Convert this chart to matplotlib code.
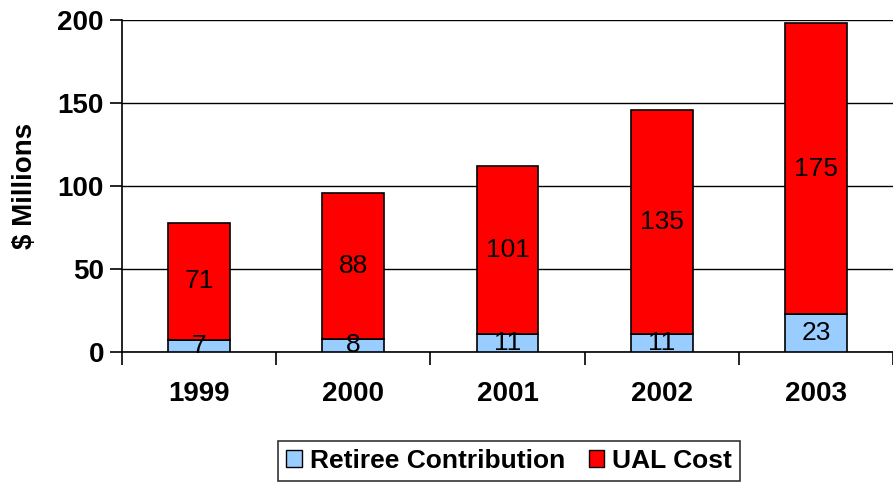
import numpy as np
import matplotlib
matplotlib.use("Agg")
import matplotlib.pyplot as plt
from matplotlib.patches import Patch

years = ["1999", "2000", "2001", "2002", "2003"]
retiree = [7, 8, 11, 11, 23]
ual = [71, 88, 101, 135, 175]

plt.rcParams['font.family'] = ['Liberation Sans', 'DejaVu Sans']

fig = plt.figure(figsize=(8.93, 4.87), dpi=100)
W, H = 893, 487
# axes in pixel coords: left 122, top 20, bottom 352, right edge cut by figure
ax = fig.add_axes([122 / W, 1 - 352 / H, (893 - 122) / W, (352 - 20) / H])

x = np.arange(len(years))
blue = '#99ccff'
red = '#ff0000'
ax.bar(x, retiree, width=0.4, color=blue, edgecolor='black', linewidth=1.2, zorder=3)
ax.bar(x, ual, width=0.4, bottom=retiree, color=red, edgecolor='black', linewidth=1.2, zorder=3)

for i in range(len(years)):
    ax.text(x[i], retiree[i] / 2, str(retiree[i]), ha='center', va='center',
            fontsize=19, color='black', zorder=4)
    ax.text(x[i], retiree[i] + ual[i] / 2, str(ual[i]), ha='center', va='center',
            fontsize=19, color='black', zorder=4)

ax.set_ylim(0, 200)
ax.set_yticks([0, 50, 100, 150, 200])
ax.set_xlim(-0.5, 4.458)
ax.yaxis.grid(True, color='black', linewidth=1.0, zorder=0)
ax.set_axisbelow(True)

# category tick marks at boundaries, labels at centers
ax.set_xticks(np.arange(len(years) + 1) - 0.5)
ax.set_xticklabels([])
ax.set_xticks(x, minor=True)
ax.set_xticklabels(years, minor=True, fontsize=20, fontweight='bold')
ax.tick_params(axis='x', which='minor', length=0, pad=21)
ax.tick_params(axis='x', which='major', length=9, width=1.2, direction='out')
ax.tick_params(axis='y', length=9, width=1.2, direction='out', labelsize=20, pad=4)
for lab in ax.get_yticklabels():
    lab.set_fontweight('bold')

for s in ['top', 'right']:
    ax.spines[s].set_visible(False)
for s in ['left', 'bottom']:
    ax.spines[s].set_linewidth(1.2)
    ax.spines[s].set_color('black')

ax.set_ylabel('$ Millions', fontsize=20, fontweight='bold', labelpad=14)

handles = [Patch(facecolor=blue, edgecolor='black', label='Retiree Contribution'),
           Patch(facecolor=red, edgecolor='black', label='UAL Cost')]
leg = fig.legend(handles=handles, loc='center', bbox_to_anchor=(509 / W, 1 - 461 / H),
                 ncol=2, fontsize=19, frameon=True, fancybox=False,
                 handlelength=0.6, handleheight=0.6, handletextpad=0.3,
                 columnspacing=0.9, borderpad=0.3)
leg.get_frame().set_edgecolor('black')
leg.get_frame().set_linewidth(1.2)
for t in leg.get_texts():
    t.set_fontweight('bold')

fig.savefig('out.png', dpi=100)
